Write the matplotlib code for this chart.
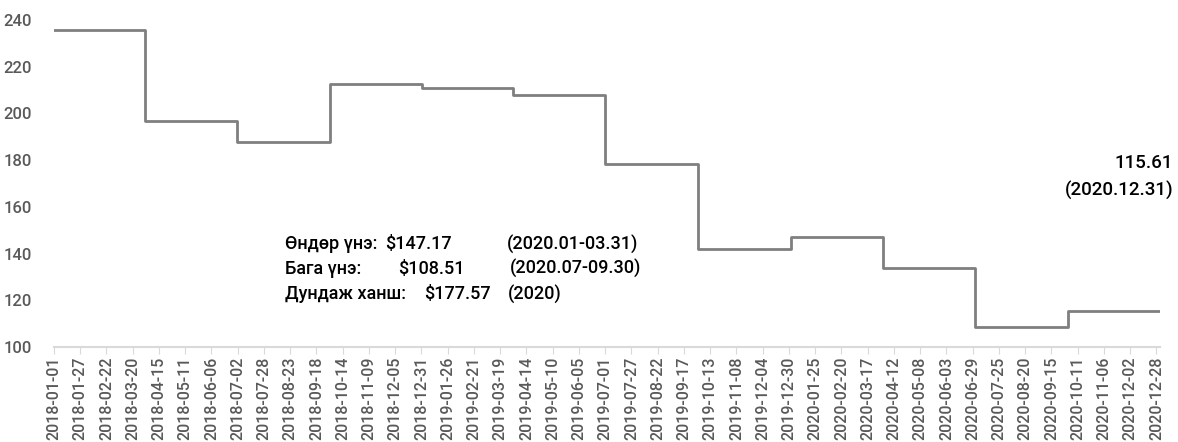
import matplotlib
matplotlib.use("Agg")
import matplotlib.pyplot as plt
from matplotlib import font_manager
import numpy as np
import pandas as pd

# quarterly price (constant within each quarter)
quarter_starts = ['2018-01-01', '2018-04-01', '2018-07-01', '2018-10-01',
                  '2019-01-01', '2019-04-01', '2019-07-01', '2019-10-01',
                  '2020-01-01', '2020-04-01', '2020-07-01', '2020-10-01']
prices = [235.9, 196.6, 187.6, 212.6, 211.0, 207.8, 178.5, 141.8,
          147.17, 133.7, 108.51, 115.61]
end_date = '2020-12-31'

notes = [
    ['Өндөр үнэ:', '$147.17', '(2020.01-03.31)'],
    ['Бага үнэ:', '$108.51', '(2020.07-09.30)'],
    ['Дундаж ханш:', '$177.57', '(2020)'],
]
last_label = ['115.61', '(2020.12.31)']

names = {f.name for f in font_manager.fontManager.ttflist}
fam = [f for f in ['Liberation Sans Narrow', 'Roboto', 'DejaVu Sans'] if f in names]
plt.rcParams['font.family'] = fam

start = pd.Timestamp(quarter_starts[0])
qx = [(pd.Timestamp(d) - start).days for d in quarter_starts]
x_end = (pd.Timestamp(end_date) - start).days
xs = qx + [x_end]
ys = prices + [prices[-1]]

tick_days = np.arange(0, x_end + 1, 26)
tick_labels = [(start + pd.Timedelta(days=int(d))).strftime('%Y-%m-%d') for d in tick_days]

W, H = 1178, 442
fig = plt.figure(figsize=(W / 100, H / 100), dpi=100)
ax = fig.add_axes([54 / W, 1 - 347 / H, (1160 - 54) / W, (347 - 20) / H])

ax.step(xs, ys, where='post', color='#7f7f7f', linewidth=2)

ax.set_xlim(0, x_end + 0.5)
ax.set_ylim(100, 240)
ax.set_yticks(np.arange(100, 241, 20))
ax.set_xticks(tick_days)
ax.set_xticklabels(tick_labels, rotation=90, fontweight='medium')
for lab in ax.get_yticklabels():
    lab.set_fontweight('medium')

for s in ['top', 'right', 'left']:
    ax.spines[s].set_visible(False)
ax.spines['bottom'].set_color('#d9d9d9')
ax.spines['bottom'].set_linewidth(1.5)
ax.tick_params(axis='y', length=0, labelsize=12, labelcolor='#595959', pad=16)
ax.tick_params(axis='x', length=5, color='#d9d9d9', labelsize=11.5,
               labelcolor='#595959', pad=2)

# annotation block
rows_y = [244, 269, 294]
cols_x = [[285, 385, 507], [285, 398, 510], [285, 424, 508]]
for r, row in enumerate(notes):
    for c, txt in enumerate(row):
        fig.text(cols_x[r][c] / W, 1 - rows_y[r] / H, txt, fontsize=13,
                 fontweight='medium', color='black', ha='left', va='center')

fig.text(1173 / W, 1 - 163 / H, last_label[0], fontsize=13.5,
         fontweight='medium', ha='right', va='center')
fig.text(1173 / W, 1 - 190 / H, last_label[1], fontsize=13.5,
         fontweight='medium', ha='right', va='center')

fig.savefig('out.png', dpi=100)
